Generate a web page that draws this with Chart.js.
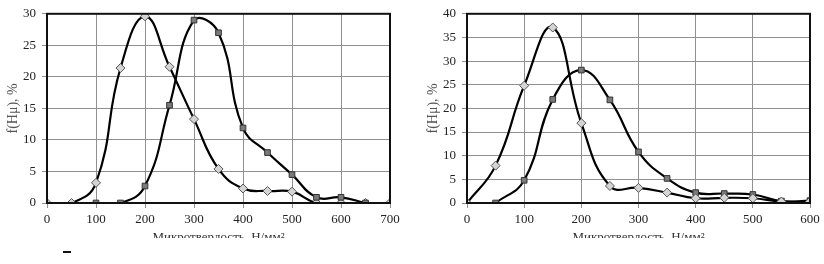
<!DOCTYPE html>
<html>
<head>
<meta charset="utf-8">
<script src="https://cdn.jsdelivr.net/npm/chart.js@4"></script>
<style>
  html, body { margin: 0; padding: 0; background: #fff; }
  body { width: 824px; height: 264px; position: relative; overflow: hidden; }
  .clip { position: absolute; top: 0; height: 238px; width: 412px; overflow: hidden; }
  .clip canvas { position: absolute; top: 0; left: 0; }
  #dash { position: absolute; left: 63px; top: 251px; width: 8px; height: 2px; background: #111; }
</style>
</head>
<body>
<div class="clip" style="left:0"><canvas id="c1" width="412" height="264"></canvas></div>
<div class="clip" style="left:412px"><canvas id="c2" width="412" height="264"></canvas></div>
<div id="dash"></div>
<script>
// ---- data ----
const leftX = [0, 50, 100, 150, 200, 250, 300, 350, 400, 450, 500, 550, 600, 650, 700];
const leftDiamond = [0, 0, 3.2, 21.4, 29.6, 21.6, 13.3, 5.4, 2.3, 1.9, 1.8, 0, 0, 0, 0];
const leftSquareX = [100, 150, 200, 250, 300, 350, 400, 450, 500, 550, 600, 650];
const leftSquare = [0, 0, 2.7, 15.5, 29.0, 27.0, 11.9, 8.0, 4.5, 0.9, 0.9, 0];

const rightX = [0, 50, 100, 150, 200, 250, 300, 350, 400, 450, 500, 550, 600];
const rightDiamond = [0, 7.9, 24.8, 37.1, 16.9, 3.6, 3.2, 2.2, 1.0, 1.1, 1.0, 0.3, 0.3];
const rightSquareX = [50, 100, 150, 200, 250, 300, 350, 400, 450, 500, 550, 600];
const rightSquare = [0, 4.8, 21.9, 28.1, 21.8, 10.8, 5.2, 2.2, 2.0, 1.8, 0.4, 0.5];

const xTitle = 'Микротвердость, Н/мм²';
const yTitle = 'f(Hμ), %';

const pts = (xs, ys) => xs.map((x, i) => ({ x: x, y: ys[i] }));

const frame = {
  id: 'frame',
  afterDatasetsDraw(chart) {
    const a = chart.chartArea, ctx = chart.ctx;
    ctx.save();
    ctx.strokeStyle = '#111';
    ctx.lineWidth = 2;
    ctx.strokeRect(a.left, a.top, a.right - a.left, a.bottom - a.top);
    ctx.restore();
  }
};

const serif = 'Liberation Serif, Times New Roman, serif';

function makeChart(id, cfg) {
  const diamondDs = {
    data: cfg.diamond, borderColor: '#000', borderWidth: 2.2, tension: 0.45,
    pointStyle: 'rectRot', pointRadius: 4.5, pointBackgroundColor: '#d4d4d4',
    pointBorderColor: '#555', pointBorderWidth: 1, order: cfg.diamondOrder
  };
  const squareDs = {
    data: cfg.square, borderColor: '#000', borderWidth: 2.2, tension: 0.45,
    pointStyle: 'rect', pointRadius: 4, pointBackgroundColor: '#7a7a7a',
    pointBorderColor: '#333', pointBorderWidth: 1, order: cfg.squareOrder
  };
  return new Chart(document.getElementById(id), {
    type: 'line',
    data: { datasets: [diamondDs, squareDs] },
    options: {
      responsive: false, animation: false,
      layout: { padding: { left: 0, right: cfg.padRight, top: cfg.padTop, bottom: 0 } },
      plugins: { legend: { display: false }, tooltip: { enabled: false } },
      scales: {
        x: {
          type: 'linear', min: 0, max: cfg.xMax,
          ticks: { stepSize: 100, color: '#222', padding: 4, font: { family: serif, size: 13 } },
          grid: { color: '#909090', lineWidth: 1, tickLength: 5 },
          border: { display: false },
          title: { display: true, text: xTitle, color: '#333', font: { family: serif, size: 13 }, padding: { top: 0, bottom: 19 } },
          afterFit(s) { s.height = cfg.xH; }
        },
        y: {
          min: 0, max: cfg.yMax,
          ticks: { stepSize: 5, color: '#222', padding: 6, font: { family: serif, size: 13 } },
          grid: { color: '#909090', lineWidth: 1, tickLength: 5 },
          border: { display: false },
          title: { display: true, text: yTitle, color: '#555', font: { family: serif, size: 14 }, padding: { top: cfg.yTitlePad, bottom: 0 } },
          afterFit(s) { s.width = cfg.yW; }
        }
      }
    },
    plugins: [frame]
  });
}

makeChart('c1', {
  diamond: pts(leftX, leftDiamond), square: pts(leftSquareX, leftSquare),
  diamondOrder: 2, squareOrder: 1,
  xMax: 700, yMax: 30, padRight: 22, padTop: 10, xH: 61, yW: 47, yTitlePad: 5
});
makeChart('c2', {
  diamond: pts(rightX, rightDiamond), square: pts(rightSquareX, rightSquare),
  diamondOrder: 1, squareOrder: 2,
  xMax: 600, yMax: 40, padRight: 14, padTop: 9, xH: 61, yW: 55, yTitlePad: 13
});
</script>
</body>
</html>
